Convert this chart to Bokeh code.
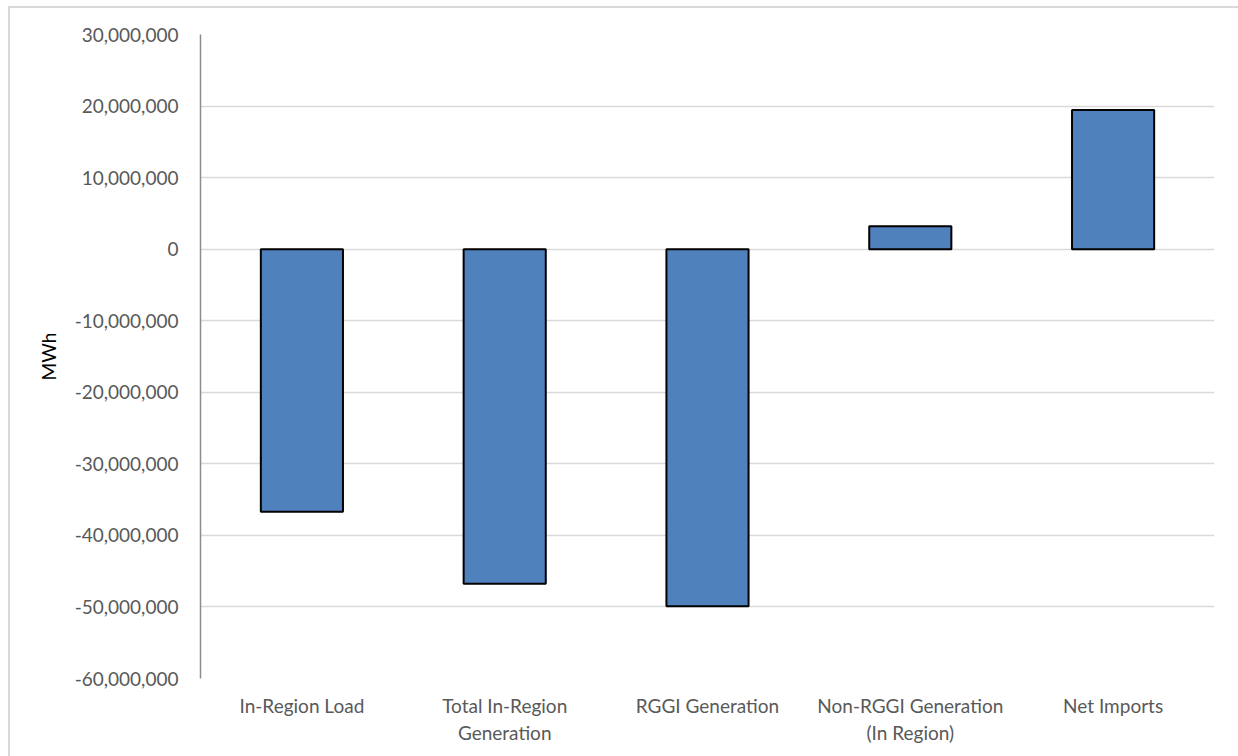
from bokeh.plotting import figure
from bokeh.models import NumeralTickFormatter, FixedTicker, ColumnDataSource, Range1d, InlineStyleSheet
from bokeh.embed import file_html
from bokeh.resources import INLINE

categories = ["In-Region Load", "Total In-Region\nGeneration", "RGGI Generation",
              "Non-RGGI Generation\n(In Region)", "Net Imports"]
values = [-36700000, -46750000, -49900000, 3200000, 19450000]
y_ticks = [30000000, 20000000, 10000000, 0, -10000000, -20000000, -30000000,
           -40000000, -50000000, -60000000]

FONT = "Lato"
src = ColumnDataSource(dict(cat=categories, val=values))

p = figure(x_range=categories, y_range=Range1d(-60000000, 30000000),
           frame_width=1014, frame_height=644, width=1228, height=748,
           min_border_left=190, min_border_top=26, min_border_right=24, min_border_bottom=78,
           output_backend="svg", toolbar_location=None)
p.styles = {"margin-left": "8px", "margin-top": "6px"}
p.stylesheets = [InlineStyleSheet(css=":host { border-top: 2px solid #d9d9d9 !important; "
                                      "border-left: 2px solid #d9d9d9 !important; }")]
p.vbar(x="cat", top="val", bottom=0, width=0.405, source=src,
       fill_color="#4F81BD", line_color="black", line_width=2)

p.outline_line_color = None
p.border_fill_color = "white"
p.background_fill_color = "white"

p.yaxis.ticker = FixedTicker(ticks=y_ticks)
p.yaxis.formatter = NumeralTickFormatter(format="0,0")
p.yaxis.axis_line_color = "#8c8c8c"
p.yaxis.axis_line_width = 1.5
p.yaxis.major_tick_line_color = None
p.yaxis.minor_tick_line_color = None
p.yaxis.major_label_text_font = FONT
p.yaxis.major_label_text_font_size = "19px"
p.yaxis.major_label_text_color = "#595959"
p.yaxis.major_label_standoff = 16
p.yaxis.axis_label = "MWh"
p.yaxis.axis_label_text_font = FONT
p.yaxis.axis_label_text_font_size = "19px"
p.yaxis.axis_label_text_font_style = "normal"
p.yaxis.axis_label_text_color = "black"
p.yaxis.axis_label_standoff = 12

p.xaxis.axis_line_color = None
p.xaxis.major_tick_line_color = None
p.xaxis.minor_tick_line_color = None
p.xaxis.major_label_text_font = FONT
p.xaxis.major_label_text_font_size = "19px"
p.xaxis.major_label_text_color = "#595959"
p.xaxis.major_label_standoff = 9

p.xgrid.grid_line_color = None
p.ygrid.grid_line_color = "#d9d9d9"
p.ygrid.grid_line_width = 1.5

open("out.html", "w").write(file_html(p, INLINE))
